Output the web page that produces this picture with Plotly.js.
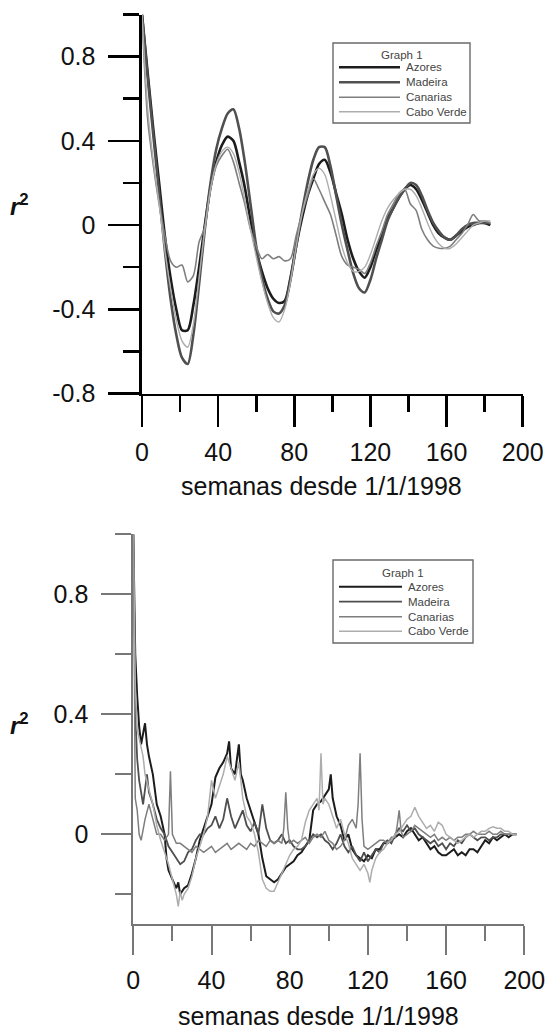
<!DOCTYPE html>
<html>
<head>
<meta charset="utf-8">
<script src="https://cdn.plot.ly/plotly-3.0.1.min.js"></script>
<style>html,body{margin:0;padding:0;background:#fff;}#chart{width:545px;height:1029px;}</style>
</head>
<body>
<div id="chart"></div>
<script>
// ---------- DATA ----------
const seriesNames = ["Azores", "Madeira", "Canarias", "Cabo Verde"];
const legendTitle = "Graph 1";
const xTitle = "semanas desde 1/1/1998";

const xTickVals = [0, 40, 80, 120, 160, 200];
const xTickText = ["0", "40", "80", "120", "160", "200"];
const xMinorVals = [20, 60, 100, 140, 180];
const topYTickVals = [-0.8, -0.4, 0, 0.4, 0.8];
const topYTickText = ["-0.8", "-0.4", "0", "0.4", "0.8"];
const topYMinorVals = [-0.6, -0.2, 0.2, 0.6, 1.0];
const botYTickVals = [0, 0.4, 0.8];
const botYTickText = ["0", "0.4", "0.8"];
const botYMinorVals = [-0.2, 0.2, 0.6, 1.0];

// Top panel (smoothed autocorrelation), weeks
const topWeeks = [0,3,6,9,12,15,18,21,24,27,30,33,36,39,42,45,48,51,54,57,60,63,66,69,72,75,78,81,84,87,90,93,96,99,102,105,108,111,114,117,120,123,126,129,132,135,138,141,144,147,150,153,156,159,162,165,168,171,174,177,180,183];
const topAzores = [1.0,0.72,0.45,0.2,-0.05,-0.25,-0.4,-0.5,-0.5,-0.38,-0.2,0.0,0.18,0.3,0.38,0.42,0.4,0.3,0.18,0.02,-0.12,-0.22,-0.3,-0.35,-0.37,-0.36,-0.25,-0.1,0.03,0.14,0.22,0.29,0.31,0.25,0.15,0.05,-0.07,-0.16,-0.22,-0.25,-0.2,-0.12,-0.05,0.03,0.08,0.13,0.17,0.19,0.17,0.12,0.06,0.0,-0.04,-0.06,-0.07,-0.05,-0.03,-0.01,0.0,0.01,0.01,0.0];
const topMadeira = [1.0,0.7,0.42,0.15,-0.12,-0.35,-0.52,-0.63,-0.66,-0.52,-0.28,-0.02,0.2,0.36,0.46,0.53,0.55,0.46,0.3,0.1,-0.1,-0.25,-0.35,-0.41,-0.42,-0.38,-0.26,-0.1,0.06,0.2,0.31,0.37,0.37,0.28,0.14,0.0,-0.12,-0.23,-0.3,-0.32,-0.26,-0.16,-0.07,0.02,0.08,0.13,0.17,0.2,0.19,0.14,0.07,0.01,-0.03,-0.06,-0.07,-0.05,-0.02,0.0,0.01,0.01,0.01,0.01];
const topCanarias = [1.0,0.5,0.28,0.1,-0.05,-0.17,-0.2,-0.19,-0.27,-0.24,-0.08,-0.01,0.17,0.28,0.33,0.36,0.3,0.2,0.1,-0.02,-0.1,-0.16,-0.14,-0.16,-0.15,-0.17,-0.16,-0.05,0.05,0.14,0.22,0.17,0.11,0.05,-0.05,-0.15,-0.19,-0.2,-0.21,-0.23,-0.18,-0.1,-0.03,0.05,0.1,0.15,0.17,0.1,0.07,-0.02,-0.07,-0.1,-0.11,-0.11,-0.1,-0.07,-0.04,0.0,0.05,0.02,0.02,0.01];
const topCaboVerde = [1.0,0.55,0.3,0.1,-0.12,-0.3,-0.45,-0.55,-0.58,-0.47,-0.25,-0.02,0.17,0.29,0.35,0.37,0.34,0.25,0.12,-0.02,-0.15,-0.27,-0.37,-0.44,-0.46,-0.4,-0.27,-0.1,0.05,0.16,0.24,0.27,0.24,0.14,0.02,-0.1,-0.18,-0.22,-0.22,-0.2,-0.14,-0.06,0.02,0.08,0.12,0.15,0.17,0.17,0.14,0.08,0.01,-0.05,-0.09,-0.11,-0.11,-0.09,-0.06,-0.03,0.0,0.01,0.02,0.02];

// Bottom panel (raw autocorrelation), weeks
const botAzoresX = [0,1,2,3,4,5,6,7,8,10,12,14,16,17,18,20,22,23,24,26,28,30,32,34,36,38,40,42,44,46,48,49,50,52,54,55,56,58,60,62,64,66,68,70,72,74,76,78,80,82,84,86,88,90,92,94,96,98,100,101,102,104,106,108,110,112,114,116,118,120,122,124,126,128,130,132,134,136,138,140,142,144,146,148,150,152,154,156,158,160,162,164,166,168,170,172,174,176,178,180,182,184,186,188,190,192,194,196];
const botAzoresY = [1.0,0.6,0.46,0.36,0.3,0.33,0.37,0.3,0.26,0.2,0.1,0.06,0.0,-0.08,-0.12,-0.15,-0.18,-0.16,-0.2,-0.18,-0.17,-0.13,-0.08,-0.02,0.02,0.06,0.1,0.19,0.22,0.24,0.27,0.31,0.22,0.2,0.3,0.2,0.18,0.12,0.08,0.04,0.0,-0.08,-0.14,-0.15,-0.16,-0.15,-0.13,-0.11,-0.1,-0.09,-0.07,-0.06,-0.04,-0.02,0.08,0.1,0.11,0.13,0.15,0.2,0.12,0.06,0.03,-0.02,0.0,-0.05,-0.07,-0.08,-0.09,-0.07,-0.08,-0.05,-0.05,-0.03,-0.03,-0.02,-0.01,0.0,-0.01,0.01,0.02,0.0,-0.02,-0.01,-0.03,-0.05,-0.04,-0.06,-0.07,-0.07,-0.06,-0.05,-0.07,-0.06,-0.07,-0.05,-0.05,-0.06,-0.04,-0.02,-0.03,-0.01,-0.02,-0.01,0.0,-0.01,0.0,0.0];

const botMadeiraX = [0,1,2,3,4,5,6,7,8,10,12,14,16,18,20,22,24,26,28,30,32,34,36,38,40,42,44,46,48,50,52,54,56,58,60,62,64,66,68,70,72,74,76,78,80,82,84,86,88,90,92,94,96,98,100,102,104,106,108,110,112,114,116,118,120,122,124,126,128,130,132,134,136,138,140,142,144,146,148,150,152,154,156,158,160,162,164,166,168,170,172,174,176,178,180,182,184,186,188,190,192,194,196];
const botMadeiraY = [1.0,0.4,0.25,0.18,0.14,0.1,0.15,0.2,0.14,0.1,0.05,0.02,0.0,-0.04,-0.06,-0.08,-0.1,-0.09,-0.06,-0.05,-0.02,0.0,0.0,0.02,0.03,0.06,0.02,0.05,0.12,0.06,0.02,0.05,0.08,0.03,0.01,0.04,0.0,0.1,0.02,-0.02,-0.03,-0.02,0.0,-0.03,-0.02,-0.04,-0.05,-0.05,-0.04,-0.02,0.0,-0.01,0.0,-0.02,-0.03,-0.05,-0.03,0.0,-0.04,-0.06,-0.04,-0.07,-0.09,-0.06,-0.09,-0.07,-0.05,-0.06,-0.03,-0.02,-0.03,0.0,0.02,0.01,0.03,0.01,0.02,0.0,-0.01,-0.02,-0.03,-0.02,-0.04,-0.03,-0.05,-0.03,-0.04,-0.02,-0.03,-0.01,0.0,-0.01,-0.02,-0.01,-0.01,-0.02,-0.01,-0.01,0.0,0.0,0.0,0.0,0.0];

const botCanariasX = [0,1,2,3,4,6,8,10,12,14,16,18,19,20,22,24,26,28,30,32,34,36,38,40,42,44,46,48,50,52,54,56,58,60,62,64,66,68,70,72,74,76,77,78,79,80,82,84,86,88,90,92,94,96,98,100,102,104,106,108,110,112,114,115,116,117,118,120,122,124,126,128,130,132,134,135,136,137,138,140,142,144,146,148,150,152,154,156,158,160,162,164,166,168,170,172,174,176,178,180,182,184,186,188,190,192,194,196];
const botCanariasY = [1.0,0.12,0.08,0.0,-0.02,0.05,0.1,0.05,0.0,0.0,-0.02,0.0,0.21,0.0,-0.03,-0.03,-0.04,-0.05,-0.06,-0.04,-0.05,-0.06,-0.05,-0.04,-0.06,-0.05,-0.04,-0.03,-0.05,-0.04,-0.03,-0.04,-0.05,-0.03,-0.04,-0.02,-0.03,-0.04,-0.02,-0.03,-0.02,-0.03,0.02,0.14,0.02,-0.03,-0.02,-0.03,-0.02,-0.01,-0.03,-0.01,0.0,-0.01,0.01,-0.02,-0.03,-0.05,-0.04,-0.02,0.03,0.05,0.02,0.1,0.27,0.05,-0.04,-0.05,-0.04,-0.03,-0.02,-0.02,-0.03,-0.01,-0.01,0.03,0.08,0.01,-0.01,0.0,0.01,0.03,0.02,0.01,0.0,-0.01,0.0,-0.02,-0.01,-0.02,-0.01,-0.02,-0.01,-0.01,0.0,0.0,0.01,0.0,0.0,0.0,0.01,0.0,0.0,0.01,0.0,0.0,0.0,0.0];

const botCaboVerdeX = [0,1,2,3,4,5,6,8,10,12,14,16,18,20,22,23,24,25,26,28,30,32,34,36,38,40,42,44,46,48,50,52,54,56,58,60,62,64,66,68,70,72,74,76,78,80,82,84,86,88,90,92,94,95,96,97,98,100,102,104,106,108,110,112,114,116,118,120,121,122,124,126,128,130,132,134,136,138,140,142,144,146,148,150,152,154,156,158,160,162,164,166,168,170,172,174,176,178,180,182,184,186,188,190,192,194,196];
const botCaboVerdeY = [1.0,0.5,0.35,0.32,0.3,0.26,0.2,0.15,0.1,0.03,-0.02,-0.06,-0.1,-0.15,-0.2,-0.24,-0.19,-0.22,-0.2,-0.18,-0.14,-0.08,-0.04,0.0,0.06,0.18,0.12,0.16,0.2,0.26,0.22,0.18,0.24,0.12,0.06,0.04,0.0,-0.06,-0.15,-0.18,-0.19,-0.19,-0.16,-0.13,-0.1,-0.07,-0.05,-0.04,-0.02,0.04,0.08,0.1,0.12,0.08,0.27,0.1,0.12,0.1,0.06,0.02,0.05,0.0,-0.03,-0.08,-0.1,-0.12,-0.1,-0.13,-0.16,-0.12,-0.08,-0.06,-0.05,-0.03,-0.02,0.0,0.01,0.03,0.05,0.06,0.09,0.06,0.04,0.02,0.03,0.01,0.04,0.03,0.0,-0.01,-0.02,-0.03,-0.02,-0.01,0.0,-0.01,0.0,0.01,0.01,0.02,0.025,0.02,0.02,0.01,0.01,0.0,0.0];

// ---------- STYLE ----------
const W = 545, H = 1029;
const px = v => v / W;
const py = v => 1 - v / H;
const FONT = "Liberation Sans, Arial, Helvetica, sans-serif";
const lineStyles = [
  {color: "#1c1c1c", width: 2.6},
  {color: "#505050", width: 2.6},
  {color: "#7e7e7e", width: 1.6},
  {color: "#adadad", width: 1.4}
];
const lineStylesBot = [
  {color: "#1c1c1c", width: 2.0},
  {color: "#4e4e4e", width: 1.8},
  {color: "#7e7e7e", width: 1.5},
  {color: "#adadad", width: 1.5}
];

const topY = [topAzores, topMadeira, topCanarias, topCaboVerde];
const botX = [botAzoresX, botMadeiraX, botCanariasX, botCaboVerdeX];
const botY = [botAzoresY, botMadeiraY, botCanariasY, botCaboVerdeY];

const traces = [];
seriesNames.forEach((n, i) => {
  traces.push({x: topWeeks, y: topY[i], name: n, type: "scatter", mode: "lines",
    line: {color: lineStyles[i].color, width: lineStyles[i].width, shape: "spline", smoothing: 0.8},
    xaxis: "x", yaxis: "y", showlegend: false, hoverinfo: "skip"});
});
seriesNames.forEach((n, i) => {
  traces.push({x: botX[i], y: botY[i], name: n, type: "scatter", mode: "lines",
    line: {color: lineStylesBot[i].color, width: lineStylesBot[i].width},
    xaxis: "x2", yaxis: "y2", showlegend: false, hoverinfo: "skip"});
});

function xAxis(domain, color, lw, len, mlen, anchor) {
  return {domain: domain, range: [0, 200], anchor: anchor, showgrid: false, zeroline: false,
    showline: true, linecolor: color, linewidth: lw, mirror: false,
    ticks: "outside", ticklen: len, tickwidth: lw, tickcolor: color,
    tickmode: "array", tickvals: xTickVals, ticktext: xTickText,
    minor: {tickmode: "array", tickvals: xMinorVals, ticks: "outside", ticklen: mlen, tickwidth: lw, tickcolor: color, showgrid: false},
    ticklabeloverflow: "allow", ticklabelstandoff: 4,
    tickfont: {family: FONT, size: 25, color: "#111"}, fixedrange: true};
}
function yAxis(domain, range, tv, tt, mv, color, lw, len, mlen, anchor) {
  return {domain: domain, range: range, anchor: anchor, showgrid: false, zeroline: false,
    showline: true, linecolor: color, linewidth: lw,
    ticks: "outside", ticklen: len, tickwidth: lw, tickcolor: color,
    tickmode: "array", tickvals: tv, ticktext: tt,
    minor: {tickmode: "array", tickvals: mv, ticks: "outside", ticklen: mlen, tickwidth: lw, tickcolor: color, showgrid: false},
    ticklabelstandoff: 8, ticklabeloverflow: "allow",
    tickfont: {family: FONT, size: 25, color: "#111"}, fixedrange: true};
}

const shapes = [];
const annotations = [];
function legend(box, titleY, rowsY, lineX0, lineX1, textX, styles) {
  shapes.push({type: "rect", xref: "paper", yref: "paper",
    x0: px(box[0]), x1: px(box[1]), y0: py(box[3]), y1: py(box[2]),
    line: {color: "#6a6a6a", width: 1.4}, fillcolor: "rgba(0,0,0,0)"});
  annotations.push({xref: "paper", yref: "paper", x: px((box[0] + box[1]) / 2), y: py(titleY),
    text: legendTitle, showarrow: false, xanchor: "center", yanchor: "middle",
    font: {family: FONT, size: 11.5, color: "#444"}});
  seriesNames.forEach((n, i) => {
    shapes.push({type: "line", xref: "paper", yref: "paper",
      x0: px(lineX0), x1: px(lineX1), y0: py(rowsY[i]), y1: py(rowsY[i]),
      line: {color: styles[i].color, width: styles[i].width}});
    annotations.push({xref: "paper", yref: "paper", x: px(textX), y: py(rowsY[i]),
      text: n, showarrow: false, xanchor: "left", yanchor: "middle",
      font: {family: FONT, size: 11.5, color: "#444"}});
  });
}
legend([333, 470, 43, 123], 55, [67.3, 82.3, 97.3, 111.7], 339, 400, 404, lineStyles);
legend([333, 473, 560, 643], 572.7, [586.7, 601.7, 616.7, 631.3], 339, 402, 406, lineStylesBot);

[[321, 486], [318, 1016]].forEach(p => annotations.push({xref: "paper", yref: "paper",
  x: px(p[0]), y: py(p[1]), text: xTitle, showarrow: false, xanchor: "center", yanchor: "middle",
  font: {family: FONT, size: 25, color: "#111"}}));
[205, 724].forEach(y => annotations.push({xref: "paper", yref: "paper",
  x: px(19), y: py(y), text: "<b><i>r</i><sup>2</sup></b>", showarrow: false, xanchor: "center", yanchor: "middle",
  font: {family: FONT, size: 24, color: "#111"}}));

const layout = {
  width: W, height: H, margin: {l: 0, r: 0, t: 0, b: 0, pad: 0},
  paper_bgcolor: "#fff", plot_bgcolor: "rgba(0,0,0,0)", showlegend: false,
  xaxis: xAxis([px(142), px(522.7)], "#000", 2.6, 31, 16, "y"),
  yaxis: yAxis([py(393.5), py(14.5)], [-0.8, 1.0], topYTickVals, topYTickText, topYMinorVals, "#000", 2.6, 31, 16, "x"),
  xaxis2: xAxis([px(133.3), px(524.3)], "#777", 2.0, 29, 15, "y2"),
  yaxis2: yAxis([py(924.3), py(534.3)], [-0.3, 1.0], botYTickVals, botYTickText, botYMinorVals, "#777", 2.0, 30, 16, "x2"),
  shapes: shapes, annotations: annotations
};

Plotly.newPlot("chart", traces, layout, {staticPlot: true, displayModeBar: false});
</script>
</body>
</html>
